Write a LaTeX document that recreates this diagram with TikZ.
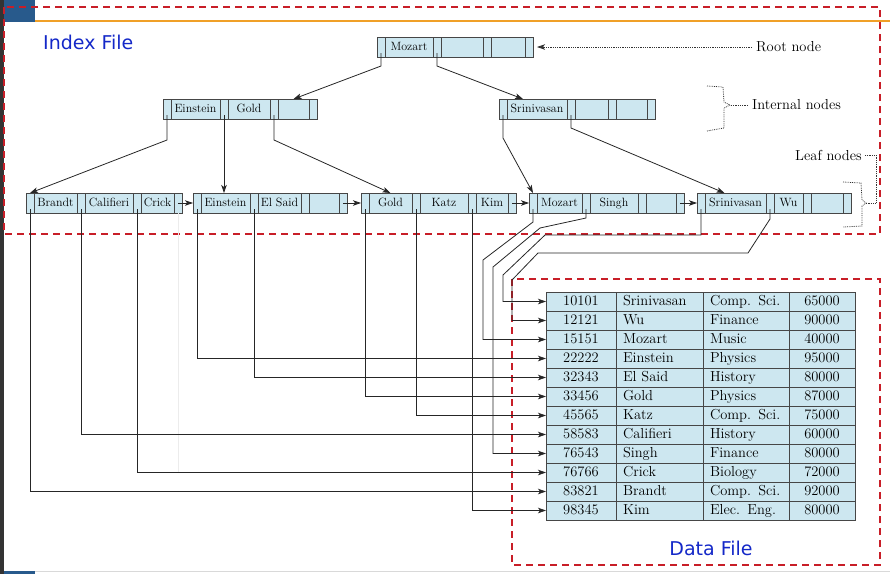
\documentclass[tikz,border=0pt]{standalone}
\usepackage{fontspec}
\newfontfamily\filesans{DejaVu Sans}
\usetikzlibrary{positioning,arrows.meta}

\definecolor{cellfill}{RGB}{205,231,240}
\definecolor{cellline}{RGB}{70,70,70}
\definecolor{dashred}{RGB}{200,30,40}
\definecolor{fileblue}{RGB}{20,40,200}
\definecolor{barblue}{RGB}{40,90,140}
\definecolor{barorange}{RGB}{240,160,40}

\newcommand{\keyfont}{\fontsize{12}{14}\selectfont}
\newcommand{\tabfont}{\fontsize{14.5}{16}\selectfont}

\tikzset{
  ptrcell/.style={draw=cellline, fill=cellfill, line width=0.7pt, minimum width=8pt,
    minimum height=20pt, inner sep=0pt, outer sep=0pt},
  keycell/.style={ptrcell, minimum width=#1, font=\keyfont, text height=8.5pt, text depth=2.5pt},
  tabcell/.style={draw=cellline, fill=cellfill, line width=0.7pt, minimum height=19pt,
    inner sep=0pt, outer sep=0pt, font=\tabfont, text height=9.5pt, text depth=2.5pt},
  tree/.style={->, draw=black!85, line width=0.8pt},
  noteline/.style={densely dotted, draw=black!80, line width=0.8pt},
  note/.style={font=\tabfont, inner sep=0pt},
  filebox/.style={draw=dashred, line width=1.4pt, dash pattern=on 7pt off 5pt},
  filelabel/.style={font=\filesans\fontsize{19}{22}\selectfont, text=fileblue, inner sep=0pt},
}

% one B+-tree node: name, corner, three key widths, three keys
\newcommand{\treenode}[8]{%
  \node[ptrcell, anchor=north west] (#1-p1) at (#2) {};
  \node[keycell=#3, right=0pt of #1-p1] (#1-k1) {#6};
  \node[ptrcell, right=0pt of #1-k1] (#1-p2) {};
  \node[keycell=#4, right=0pt of #1-p2] (#1-k2) {#7};
  \node[ptrcell, right=0pt of #1-k2] (#1-p3) {};
  \node[keycell=#5, right=0pt of #1-p3] (#1-k3) {#8};
  \node[ptrcell, right=0pt of #1-k3] (#1-p4) {};
}

\begin{document}
\begin{tikzpicture}[>={Stealth[length=8pt,width=5.5pt,inset=2pt]}, x=1pt, y=-1pt]
    \useasboundingbox (0,0) rectangle (890,574);

    % screen frame
    \fill[black!80] (0,0) rectangle (4,574);
    \fill[barblue] (4,0) rectangle (35,22);
    \draw[barorange, line width=1.5pt] (35,21) -- (890,21);
    \draw[gray!30] (4,571) -- (890,571);
    \fill[barblue] (4,571) rectangle (35,574);

    % file regions
    \draw[filebox] (4,7) rectangle (880,234);
    \draw[filebox] (512,279) rectangle (880,565);
    \node[filelabel, anchor=west] (idxlbl) at (43,42) {Index File};
    \node[filelabel] (datlbl) at (711,548) {Data File};

    % tree
    \treenode{root}{377,37}{48pt}{42pt}{34pt}{Mozart}{}{}
    \treenode{int1}{163,99}{49pt}{42pt}{31pt}{Einstein}{Gold}{}
    \treenode{int2}{499,99}{60pt}{33pt}{31pt}{Srinivasan}{}{}
    \treenode{leaf1}{26,193}{43pt}{48pt}{33pt}{Brandt}{Califieri}{Crick}
    \treenode{leaf2}{193,193}{49pt}{43pt}{30pt}{Einstein}{El Said}{}
    \treenode{leaf3}{361,193}{43pt}{48pt}{32pt}{Gold}{Katz}{Kim}
    \treenode{leaf4}{529,193}{45pt}{48pt}{30pt}{Mozart}{Singh}{}
    \treenode{leaf5}{697,193}{61pt}{29pt}{32pt}{Srinivasan}{Wu}{}

    % data file
    \foreach \id/\nm/\dep/\sal [count=\i] in {10101/Srinivasan/Comp. Sci./65000,
        12121/Wu/Finance/90000, 15151/Mozart/Music/40000, 22222/Einstein/Physics/95000,
        32343/El Said/History/80000, 33456/Gold/Physics/87000, 45565/Katz/Comp. Sci./75000,
        58583/Califieri/History/60000, 76543/Singh/Finance/80000, 76766/Crick/Biology/72000,
        83821/Brandt/Comp. Sci./92000, 98345/Kim/Elec. Eng./80000} {
        \node[tabcell, minimum width=70pt, anchor=north west] (r\i) at (546,{292+19*(\i-1)}) {\id};
        \node[tabcell, text width=73pt, inner xsep=7pt, align=left, right=0pt of r\i] (n\i) {\nm};
        \node[tabcell, text width=72pt, inner xsep=7pt, align=left, right=0pt of n\i] (d\i) {\dep};
        \node[tabcell, minimum width=66pt, right=0pt of d\i] (s\i) {\sal};
    }

    % child pointers
    \draw[tree] ([yshift=4pt]root-p1.south) -- ++(0,13) -- (int1-k3.north);
    \draw[tree] ([yshift=4pt]root-p2.south) -- ++(0,13) -- ([xshift=-14pt]int2-k1.north);
    \draw[tree] ([yshift=4pt]int1-p1.south) -- ++(0,25) -- (leaf1-p1.north);
    \draw[tree] ([yshift=4pt]int1-p2.south) -- (int1-p2 |- leaf2-k1.north);
    \draw[tree] ([yshift=4pt]int1-p3.south) -- ++(0,25) -- (leaf3-k1.north);
    \draw[tree] ([yshift=4pt]int2-p1.south) -- ++(0,23) -- (leaf4-p1.north);
    \draw[tree] ([yshift=4pt]int2-p2.south) -- ++(0,13) -- ([xshift=-11pt]leaf5-k1.north);

    % leaf chain
    \draw[tree] (leaf1-p4.center) -- (leaf2-p1.west);
    \draw[tree] (leaf2-p4.center) -- (leaf3-p1.west);
    \draw[tree] (leaf3-p4.center) -- (leaf4-p1.west);
    \draw[tree] (leaf4-p4.center) -- (leaf5-p1.west);

    % record pointers
    \draw[gray!15] (leaf1-p4.south) -- (leaf1-p4 |- r10.west);
    \foreach \lf/\row in {leaf1-p1/11, leaf1-p2/8, leaf1-p3/10, leaf2-p1/4,
        leaf2-p2/5, leaf3-p1/6, leaf3-p2/7, leaf3-p3/12}
        \draw[tree] ([yshift=4pt]\lf.south) |- (r\row.west);
    \draw[tree] ([yshift=4pt]leaf4-p1.south) -- ++(0,13) -- ++(-50,38) |- (r3.west);
    \draw[tree] ([yshift=4pt]leaf4-p2.south) -- ++(0,9) -- ++(-46,10) -- ++(-47,39) |- (r9.west);
    \draw[tree] ([yshift=4pt]leaf5-p1.south) -- ++(0,26) -- ++(-156,0) -- ++(-42,40) |- (r1.west);
    \draw[tree] ([yshift=4pt]leaf5-p2.south) -- ++(0,10) -- ++(-22,34) -- ++(-210,0) -- ++(-26,27) |- (r2.west);

    % notes
    \node[note, anchor=west] (rootlbl) at (756,47) {Root node};
    \draw[noteline, ->, shorten <=4pt] (rootlbl.west) -- ([xshift=4pt]root-p4.east);
    \node[note, anchor=west] (intlbl) at (752,105) {Internal nodes};
    \coordinate (intbrace) at (730,105);
    \draw[noteline, shorten <=4pt] (intlbl.west) -- (intbrace);
    \draw[noteline] (707,86) -- (723,87) -- (724,102) -- (intbrace) -- (724,108) -- (724,128) -- (707,131);
    \node[note, anchor=west] (leaflbl) at (795,155) {Leaf nodes};
    \coordinate (leafbrace) at (866,203);
    \draw[noteline] ([xshift=3pt]leaflbl.east) -| (876,203) -- (leafbrace);
    \draw[noteline] (843,182) -- (861,183) -- (862,200) -- (leafbrace) -- (862,206) -- (862,226) -- (843,227);
\end{tikzpicture}
\end{document}
